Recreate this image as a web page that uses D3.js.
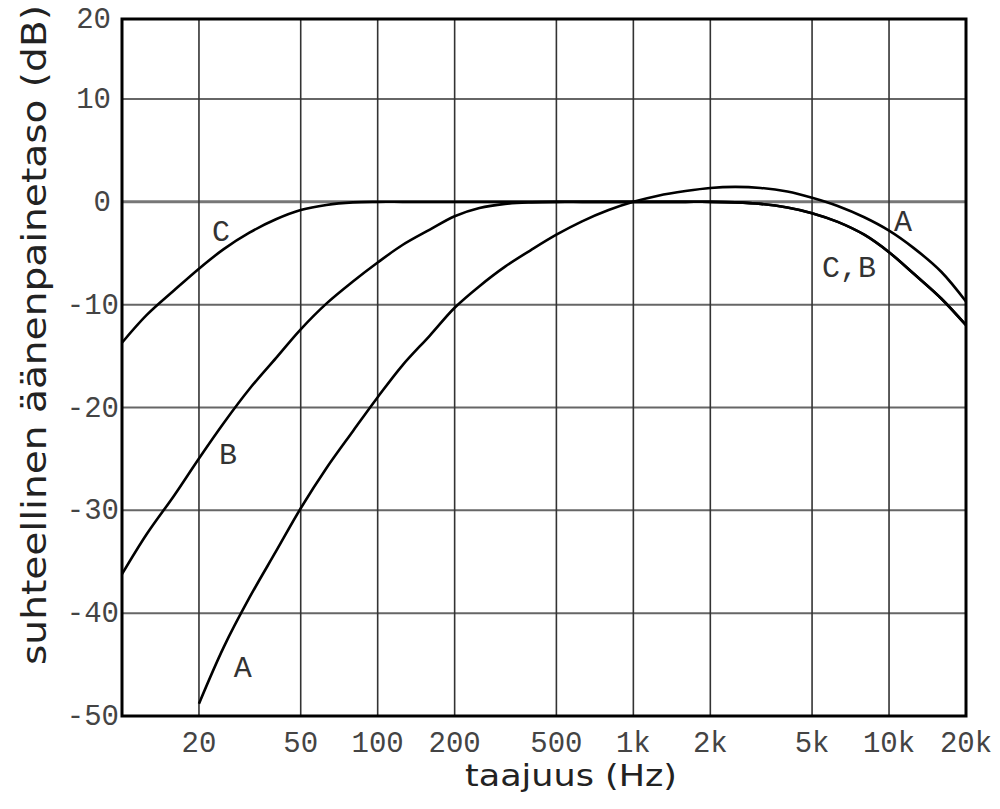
<!DOCTYPE html>
<html>
<head>
<meta charset="utf-8">
<script src="https://cdn.jsdelivr.net/npm/d3@7"></script>
<style>
  body { margin: 0; background: #fff; }
  svg { display: block; }
</style>
</head>
<body>
<svg id="chart" width="1000" height="809"></svg>
<script>
// taajuudet (Hz), terssikaistat
var freqLow = [10, 12.5, 16, 20, 25, 31.5, 40, 50, 63, 80, 100, 125, 160, 200, 250, 315, 400, 500, 630, 800,
               1000, 1250, 1600, 2000, 2500, 3150, 4000, 5000, 6300, 8000, 10000, 12500, 16000, 20000];
var freqA = freqLow.slice(3); // A alkaa 20 Hz:stä

var curveA = [-48.8, -43.3, -38.5, -34.0, -29.8, -25.9, -22.3, -19.0, -15.9, -13.0, -10.3, -8.2, -6.3, -4.65,
              -3.2, -1.9, -0.8, 0, 0.6, 1.05, 1.35, 1.45, 1.35, 1.0, 0.4, -0.4, -1.5, -2.8, -4.5, -6.8, -9.7];
var curveB = [-36.2, -32.3, -28.55, -24.95, -21.5, -18.2, -15.2, -12.4, -9.9, -7.75, -5.9, -4.2, -2.7, -1.4, -0.6,
              -0.2, -0.05, 0, 0, 0, 0, 0, 0, 0, -0.05, -0.2, -0.55, -1.1, -1.95, -3.2, -4.9, -7.0, -9.4, -12.0];
var curveC = [-13.7, -11.0, -8.6, -6.5, -4.6, -3.0, -1.7, -0.8, -0.3, -0.05, 0, 0, 0, 0, 0,
              0, 0, 0, 0, 0, 0, 0, 0, 0, -0.05, -0.2, -0.55, -1.1, -1.95, -3.2, -4.9, -7.0, -9.4, -12.0];

var xTicks = [20, 50, 100, 200, 500, 1000, 2000, 5000, 10000, 20000];
var xTickLabels = ["20", "50", "100", "200", "500", "1k", "2k", "5k", "10k", "20k"];
var yTicks = [20, 10, 0, -10, -20, -30, -40, -50];

var curveLabels = [
  {text: "C", f: 24.4, db: -3.8},
  {text: "B", f: 26, db: -25.5},
  {text: "A", f: 29.7, db: -46.2},
  {text: "A", f: 11340, db: -2.8},
  {text: "C,B", f: 6970, db: -7.3}
];

var svg = d3.select("#chart");

var x = d3.scaleLog().domain([10, 20000]).range([122, 966]);
// yläreuna on kuvassa puristettu: 20 dB on kehyksen kohdalla
var y = d3.scaleLinear().domain([-50, 10, 20]).range([716, 99, 19]);

var plotL = x(10), plotR = x(20000), plotT = y(20), plotB = y(-50);

// ruudukko
svg.append("g").selectAll("line")
  .data(yTicks.filter(function(d) { return d < 20 && d > -50; }))
  .enter().append("line")
  .attr("x1", plotL).attr("x2", plotR)
  .attr("y1", function(d) { return y(d); })
  .attr("y2", function(d) { return y(d); })
  .attr("stroke", function(d) { return d == 0 ? "#777" : "#666"; })
  .attr("stroke-width", function(d) { return d == 0 ? 3 : 2; });

svg.append("g").selectAll("line")
  .data(xTicks.filter(function(d) { return d < 20000; }))
  .enter().append("line")
  .attr("x1", function(d) { return x(d); })
  .attr("x2", function(d) { return x(d); })
  .attr("y1", plotT).attr("y2", plotB)
  .attr("stroke", "#333")
  .attr("stroke-width", 1.6);

// käyrät
var line = d3.line()
  .x(function(d) { return x(d[0]); })
  .y(function(d) { return y(d[1]); })
  .curve(d3.curveCatmullRom.alpha(0.5));

var series = [
  d3.zip(freqLow, curveC),
  d3.zip(freqLow, curveB),
  d3.zip(freqA, curveA)
];

svg.append("g").selectAll("path")
  .data(series)
  .enter().append("path")
  .attr("d", line)
  .attr("fill", "none")
  .attr("stroke", "#000")
  .attr("stroke-width", 2.6);

// kehys
svg.append("rect")
  .attr("x", plotL).attr("y", plotT)
  .attr("width", plotR - plotL).attr("height", plotB - plotT)
  .attr("fill", "none")
  .attr("stroke", "#000")
  .attr("stroke-width", 3);

// akseliluvut
svg.append("g").selectAll("text")
  .data(xTicks)
  .enter().append("text")
  .attr("x", function(d) { return x(d); })
  .attr("y", 752)
  .attr("text-anchor", "middle")
  .attr("font-family", "Liberation Mono, Courier New, monospace")
  .attr("font-size", 29)
  .attr("fill", "#444")
  .text(function(d, i) { return xTickLabels[i]; });

svg.append("g").selectAll("text")
  .data(yTicks)
  .enter().append("text")
  .attr("x", function(d) { return d < 0 ? 119 : 111; })
  .attr("y", function(d) { return y(d) + 9; })
  .attr("text-anchor", "end")
  .attr("font-family", "Liberation Mono, Courier New, monospace")
  .attr("font-size", 29)
  .attr("fill", "#444")
  .text(function(d) { return d; });

// käyrien nimet
svg.append("g").selectAll("text")
  .data(curveLabels)
  .enter().append("text")
  .attr("x", function(d) { return x(d.f); })
  .attr("y", function(d) { return y(d.db); })
  .attr("text-anchor", "middle")
  .attr("font-family", "Liberation Mono, Courier New, monospace")
  .attr("font-size", 30)
  .attr("fill", "#333")
  .text(function(d) { return d.text; });

// akselien otsikot
svg.append("text")
  .attr("x", 571)
  .attr("y", 786)
  .attr("text-anchor", "middle")
  .attr("font-family", "DejaVu Sans, Verdana, sans-serif")
  .attr("font-size", 30)
  .attr("textLength", 212)
  .attr("lengthAdjust", "spacingAndGlyphs")
  .attr("fill", "#222")
  .text("taajuus (Hz)");

svg.append("text")
  .attr("transform", "translate(46,335) rotate(-90)")
  .attr("text-anchor", "middle")
  .attr("font-family", "DejaVu Sans, Verdana, sans-serif")
  .attr("font-size", 33)
  .attr("textLength", 660)
  .attr("lengthAdjust", "spacingAndGlyphs")
  .attr("fill", "#222")
  .text("suhteellinen äänenpainetaso (dB)");
</script>
</body>
</html>
